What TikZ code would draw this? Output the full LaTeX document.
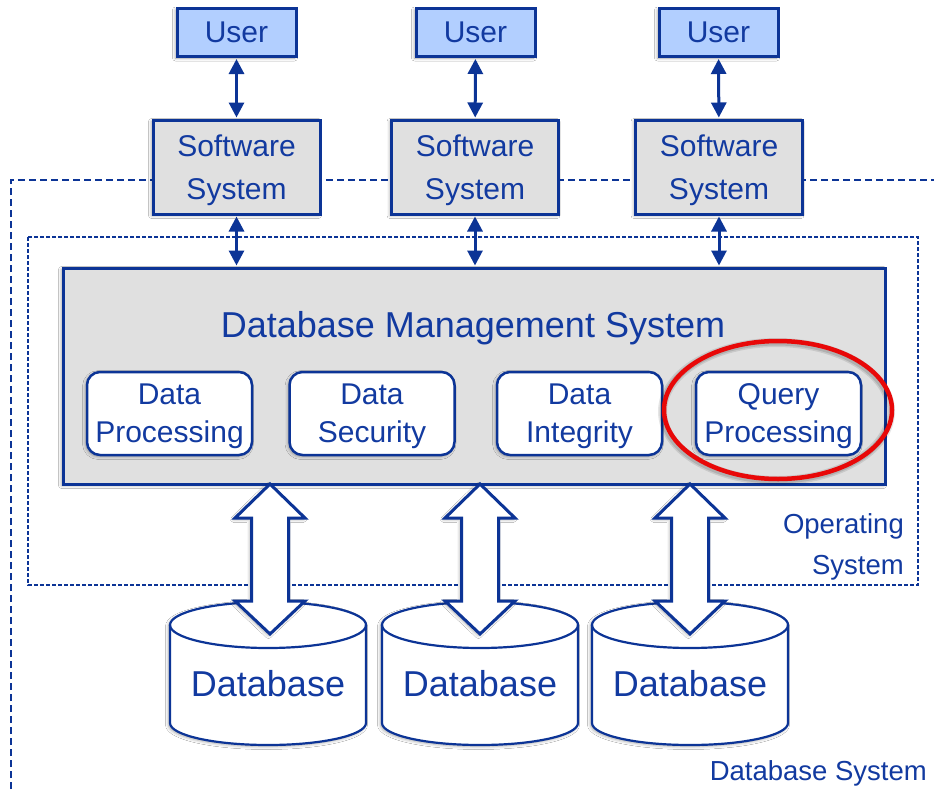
\documentclass[tikz,border=0pt]{standalone}
\usepackage{fontspec}
\setmainfont{Liberation Sans}
\usetikzlibrary{arrows.meta,shadows.blur}

\definecolor{dbblue}{RGB}{12,52,150}
\definecolor{dbtext}{RGB}{18,58,160}
\definecolor{userfill}{RGB}{178,207,255}
\definecolor{boxgrey}{RGB}{224,224,224}
\definecolor{ringred}{RGB}{232,8,8}

\tikzset{
  soft/.style={blur shadow={shadow xshift=-1.5pt, shadow yshift=-1.5pt, shadow blur radius=3pt, shadow opacity=35}},
  userbox/.style={draw=dbblue, line width=3pt, fill=userfill, soft, text=dbtext,
    minimum width=119pt, minimum height=48pt, inner sep=0pt,
    font=\fontsize{30}{40}\selectfont},
  swbox/.style={draw=dbblue, line width=3pt, fill=boxgrey, soft, text=dbtext,
    minimum width=167pt, minimum height=94pt, inner sep=0pt, align=center, text depth=0pt,
    font=\fontsize{30}{42.5}\selectfont},
  dbmsbox/.style={draw=dbblue, line width=3pt, fill=boxgrey, soft,
    minimum width=822pt, minimum height=216pt, inner sep=0pt},
  modbox/.style={draw=dbblue, line width=2.5pt, fill=white, rounded corners=13pt, soft,
    text=dbtext, minimum width=165pt, minimum height=83pt, inner sep=0pt, align=center,
    text depth=0pt, font=\fontsize{30}{38}\selectfont},
  duplex/.style={draw=dbblue, line width=3pt,
    {Triangle[width=15pt,length=15pt]}-{Triangle[width=15pt,length=15pt]}, shorten <=1pt, shorten >=1pt},
  hollow/.style={draw=dbblue, line width=3pt, fill=white, line join=miter, soft},
  drum/.style={draw=dbblue, line width=2.2pt, fill=white, soft},
  boundary/.style={draw=dbblue, line width=1.6pt, dash pattern=on 7pt off 4pt},
  osboundary/.style={draw=dbblue, line width=1.4pt, dash pattern=on 4pt off 2pt},
  tag/.style={text=dbtext, align=right, inner sep=0pt, text depth=0pt,
    font=\fontsize{27.5}{41}\selectfont},
}

\begin{document}
\begin{tikzpicture}[x=1pt, y=-1pt]
  \clip (0,0) rectangle (934,790);
  \fill[white] (0,0) rectangle (934,790);

  % system boundaries
  \draw[boundary] (11,800) -- (11,180) -- (950,180);
  \draw[osboundary] (28,237) rectangle (918,585);

  % users and application software
  \node[userbox] (user1) at (236.5,32.5) {User};
  \node[userbox] (user2) at (475.5,32.5) {User};
  \node[userbox] (user3) at (718.5,32.5) {User};

  \node[swbox] (sw1) at (236.5,167) {Software\\System};
  \node[swbox] (sw2) at (475,167) {Software\\System};
  \node[swbox] (sw3) at (719,167) {Software\\System};

  % DBMS and its modules
  \node[dbmsbox] (dbms) at (474,376) {};
  \node[text=dbtext, font=\fontsize{36}{40}\selectfont, inner sep=0pt, text depth=0pt]
    (title) at (473,324) {Database Management System};

  \node[modbox] (m1) at (169.5,413.5) {Data\\Processing};
  \node[modbox] (m2) at (372,413.5) {Data\\Security};
  \node[modbox] (m3) at (579.5,413.5) {Data\\Integrity};
  \node[modbox] (m4) at (778.5,413.5) {Query\\Processing};

  % user <-> software <-> DBMS
  \foreach \i in {1,2,3} {
    \draw[duplex] (user\i) -- (sw\i);
    \draw[duplex] (sw\i) -- (sw\i |- dbms.north);
  }

  % databases
  \foreach \n/\cx in {1/268, 2/480, 3/690} {
    \path[drum] (\cx-98,625) -- (\cx-98,723)
      arc[start angle=180, end angle=360, x radius=98pt, y radius=22pt]
      -- (\cx+98,625)
      arc[start angle=0, end angle=180, x radius=98pt, y radius=23pt] -- cycle;
    \draw[dbblue, line width=2.2pt] (\cx-98,625)
      arc[start angle=180, end angle=360, x radius=98pt, y radius=23pt];
    \node[text=dbtext, font=\fontsize{36}{40}\selectfont, inner sep=0pt] (db\n) at (\cx,684) {Database};
  }

  % data flow between DBMS and databases
  \foreach \cx in {270, 480, 690} {
    \path[hollow] (\cx,484) -- (\cx+35,518) -- (\cx+18.5,518) -- (\cx+18.5,601)
      -- (\cx+35,601) -- (\cx,634) -- (\cx-35,601) -- (\cx-18.5,601)
      -- (\cx-18.5,518) -- (\cx-35,518) -- cycle;
  }

  % boundary labels
  \node[tag, anchor=east] (oslabel) at (904,544) {Operating\\System};
  \node[tag, anchor=east] (dbslabel) at (927,771) {Database System};

  % highlight ring with a soft grey halo underneath
  \draw[black, opacity=0.10, line width=9pt] (776.5,411.5) ellipse[x radius=114pt, y radius=69pt];
  \draw[black, opacity=0.12, line width=6pt] (776.5,411.5) ellipse[x radius=114pt, y radius=69pt];
  \draw[ringred, line width=4.5pt] (778,410) ellipse[x radius=114pt, y radius=69pt];
\end{tikzpicture}
\end{document}
